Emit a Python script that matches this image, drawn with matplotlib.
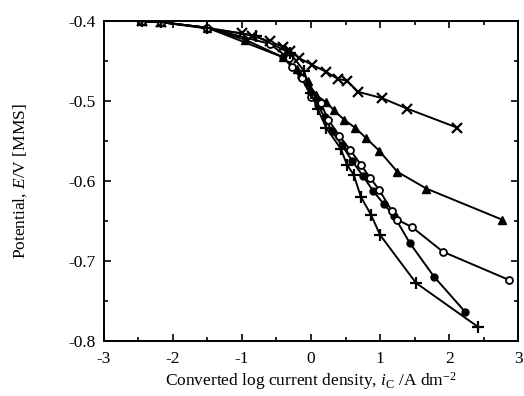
import matplotlib.pyplot as plt
from matplotlib.ticker import MultipleLocator

plt.rcParams['font.family'] = ['Liberation Serif', 'DejaVu Serif']
plt.rcParams['mathtext.fontset'] = 'custom'
plt.rcParams['mathtext.rm'] = 'Liberation Serif'
plt.rcParams['mathtext.it'] = 'Liberation Serif:italic'

# x-series (diagonal crosses)
x_cross = [-2.45, -2.17, -1.0, -0.85, -0.6, -0.4, -0.3, -0.17, 0.01, 0.22, 0.39, 0.52, 0.68, 1.03, 1.39, 2.12]
y_cross = [-0.400, -0.401, -0.415, -0.418, -0.425, -0.432, -0.437, -0.446, -0.454, -0.463, -0.472, -0.474, -0.488, -0.496, -0.509, -0.533]

# filled triangles
x_tri = [-2.45, -2.17, -1.5, -0.95, -0.4, -0.2, -0.05, 0.07, 0.22, 0.33, 0.48, 0.64, 0.80, 0.99, 1.25, 1.67, 2.77]
y_tri = [-0.400, -0.401, -0.408, -0.423, -0.445, -0.460, -0.475, -0.492, -0.501, -0.511, -0.523, -0.533, -0.546, -0.562, -0.588, -0.609, -0.648]

# open circles
x_open = [-2.45, -2.17, -1.5, -0.6, -0.32, -0.28, -0.13, 0.0, 0.14, 0.25, 0.41, 0.57, 0.72, 0.86, 0.99, 1.17, 1.25, 1.46, 1.91, 2.86]
y_open = [-0.400, -0.401, -0.408, -0.428, -0.446, -0.457, -0.471, -0.494, -0.502, -0.523, -0.543, -0.561, -0.579, -0.596, -0.611, -0.637, -0.648, -0.657, -0.688, -0.723]

# filled circles
x_fill = [-2.45, -2.17, -1.5, -0.4, -0.15, 0.0, 0.1, 0.2, 0.3, 0.45, 0.6, 0.75, 0.9, 1.05, 1.2, 1.43, 1.78, 2.23]
y_fill = [-0.400, -0.401, -0.408, -0.445, -0.470, -0.490, -0.505, -0.520, -0.537, -0.555, -0.575, -0.593, -0.612, -0.628, -0.643, -0.677, -0.719, -0.763]

# plus signs
x_plus = [-2.45, -2.17, -1.5, -0.8, -0.3, -0.1, 0.0, 0.1, 0.22, 0.43, 0.52, 0.62, 0.72, 0.87, 1.0, 1.52, 2.42]
y_plus = [-0.400, -0.401, -0.408, -0.418, -0.440, -0.462, -0.490, -0.510, -0.533, -0.559, -0.579, -0.592, -0.619, -0.642, -0.667, -0.727, -0.782]

fig = plt.figure(figsize=(5.24, 3.96), dpi=100)
ax = fig.add_axes([0.198, 0.138, 0.791, 0.808])

kw = dict(color='black', lw=1.4)
ax.plot(x_cross, y_cross, marker='x', ms=6.5, mew=1.6, **kw)
ax.plot(x_tri, y_tri, marker='^', ms=5.5, **kw)
ax.plot(x_fill, y_fill, marker='o', ms=5, **kw)
ax.plot(x_open, y_open, marker='o', ms=5, mfc='white', mew=1.3, **kw)
ax.plot(x_plus, y_plus, marker='+', ms=9, mew=1.6, **kw)

ax.set_xlim(-3, 3)
ax.set_ylim(-0.8, -0.4)
ax.xaxis.set_minor_locator(MultipleLocator(0.5))
ax.yaxis.set_minor_locator(MultipleLocator(0.05))
ax.set_xticks([-3, -2, -1, 0, 1, 2, 3])
ax.set_xticklabels(['-3', '-2', '-1', '0', '1', '2', '3'])
ax.set_yticks([-0.8, -0.7, -0.6, -0.5, -0.4])
ax.set_yticklabels(['-0.8', '-0.7', '-0.6', '-0.5', '-0.4'])
ax.tick_params(which='both', direction='in', top=True, right=True, labelsize=12.5, width=1.2)
ax.tick_params(which='major', length=5)
ax.tick_params(which='minor', length=3)
ax.tick_params(axis='x', pad=7)
ax.tick_params(axis='y', pad=6)
for s in ax.spines.values():
    s.set_linewidth(1.4)

ax.set_xlabel('Converted log current density, $i_{\\mathrm{C}}$ /A dm$^{-2}$', fontsize=12.5, labelpad=2)
ax.set_ylabel('Potential, $E$/V [MMS]', fontsize=12.5, labelpad=28)

fig.savefig('out.png', dpi=100)
